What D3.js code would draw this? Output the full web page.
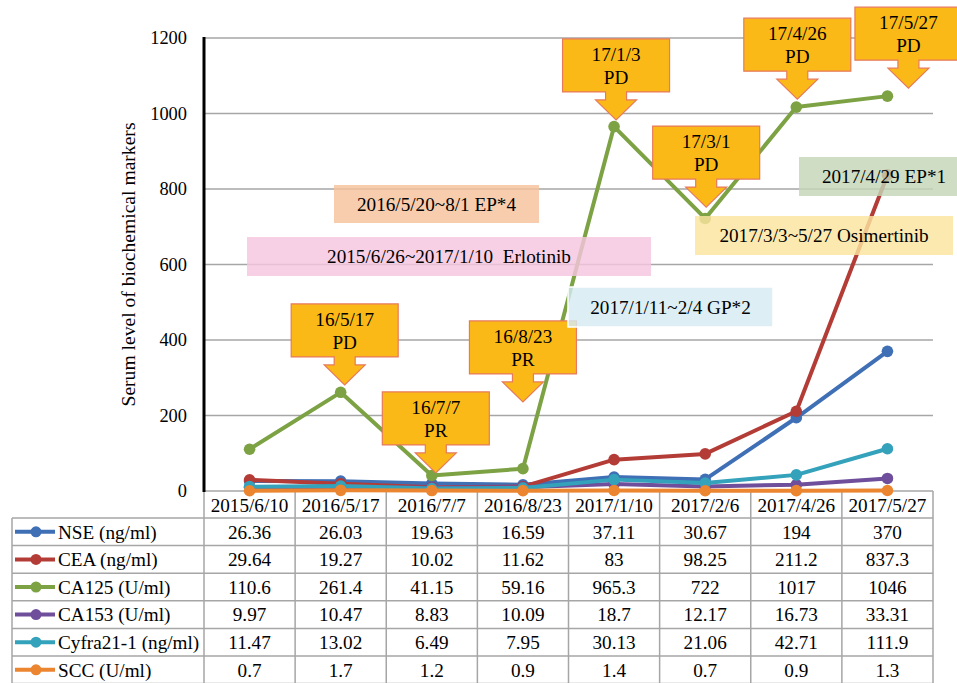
<!DOCTYPE html>
<html>
<head>
<meta charset="utf-8">
<script src="https://cdn.jsdelivr.net/npm/d3@7"></script>
<style>
  body { margin: 0; background: #fff; }
</style>
</head>
<body>
<script>
// sample dates (x categories)
var dates = ["2015/6/10", "2016/5/17", "2016/7/7", "2016/8/23", "2017/1/10", "2017/2/6", "2017/4/26", "2017/5/27"];

// marker series
var seriesNames = ["NSE (ng/ml)", "CEA (ng/ml)", "CA125 (U/ml)", "CA153 (U/ml)", "Cyfra21-1 (ng/ml)", "SCC (U/ml)"];
var seriesColors = ["#3f6fb5", "#b43c36", "#7ca244", "#6f4f9c", "#33a2ba", "#ec8530"];
var nse = [26.36, 26.03, 19.63, 16.59, 37.11, 30.67, 194, 370];
var cea = [29.64, 19.27, 10.02, 11.62, 83, 98.25, 211.2, 837.3];
var ca125 = [110.6, 261.4, 41.15, 59.16, 965.3, 722, 1017, 1046];
var ca153 = [9.97, 10.47, 8.83, 10.09, 18.7, 12.17, 16.73, 33.31];
var cyfra = [11.47, 13.02, 6.49, 7.95, 30.13, 21.06, 42.71, 111.9];
var scc = [0.7, 1.7, 1.2, 0.9, 1.4, 0.7, 0.9, 1.3];
var seriesValues = [nse, cea, ca125, ca153, cyfra, scc];
// printed table text (kept as shown)
var tableText = [
  ["26.36", "26.03", "19.63", "16.59", "37.11", "30.67", "194", "370"],
  ["29.64", "19.27", "10.02", "11.62", "83", "98.25", "211.2", "837.3"],
  ["110.6", "261.4", "41.15", "59.16", "965.3", "722", "1017", "1046"],
  ["9.97", "10.47", "8.83", "10.09", "18.7", "12.17", "16.73", "33.31"],
  ["11.47", "13.02", "6.49", "7.95", "30.13", "21.06", "42.71", "111.9"],
  ["0.7", "1.7", "1.2", "0.9", "1.4", "0.7", "0.9", "1.3"]
];

var yTicks = [0, 200, 400, 600, 800, 1000, 1200];

// response callouts
var calloutDates = ["16/5/17", "16/7/7", "16/8/23", "17/1/3", "17/3/1", "17/4/26", "17/5/27"];
var calloutStatus = ["PD", "PR", "PR", "PD", "PD", "PD", "PD"];
var calloutCat = [1, 2, 3, 4, 5, 6, 7];
var calloutTip = [281, 48, 236, 983, 752, 1038, 1067];

// treatment notes
var noteTexts = ["2016/5/20~8/1 EP*4", "2015/6/26~2017/1/10\u00a0\u00a0Erlotinib", "2017/1/11~2/4 GP*2", "2017/4/29 EP*1", "2017/3/3~5/27 Osimertinib"];
var noteColors = ["#f5c29c", "#f7c6df", "#d5ebf2", "#c3d6b6", "#fbe49f"];

function drawChart(){
  var W = 957, H = 683;
  var plotL = 204, plotR = 933, plotT = 38, zeroY = 491;
  var rowH = 27.6, legLeft = 12;
  var font = "'Liberation Serif', serif";
  var fs = 19.2, fsTick = 18.4;

  var svg = d3.select("body").append("svg")
      .attr("width", W)
      .attr("height", H)
      .style("font-family", font)
      .style("display", "block");

  var x = d3.scaleBand().domain(dates).range([plotL, plotR]).paddingInner(0).paddingOuter(0);
  var cx = function(i){ return x(dates[i]) + x.bandwidth() / 2; };
  var y = d3.scaleLinear().domain([0, 1200]).range([zeroY, plotT]);

  // gridlines
  svg.append("g").selectAll("line")
    .data(yTicks.filter(function(t){ return t > 0; }))
    .enter().append("line")
      .attr("x1", plotL).attr("x2", plotR)
      .attr("y1", function(d){ return y(d); })
      .attr("y2", function(d){ return y(d); })
      .attr("stroke", "#a6a6a6")
      .attr("stroke-width", 1.5);

  // y tick labels
  svg.append("g").selectAll("text")
    .data(yTicks)
    .enter().append("text")
      .attr("x", 187)
      .attr("y", function(d){ return y(d) + 6; })
      .attr("text-anchor", "end")
      .style("font-size", fsTick + "px")
      .text(function(d){ return d; });

  // y axis title
  svg.append("text")
    .attr("transform", "translate(135," + ((plotT + zeroY) / 2) + ") rotate(-90)")
    .attr("text-anchor", "middle")
    .style("font-size", "19.6px")
    .text("Serum level of biochemical markers");

  // table
  var tbl = svg.append("g");
  var gridC = "#a6a6a6";
  tbl.append("line").attr("x1", plotL).attr("x2", plotR).attr("y1", zeroY).attr("y2", zeroY)
    .attr("stroke", gridC).attr("stroke-width", 1.5);
  for (var r = 0; r <= 6; r++) {
    tbl.append("line").attr("x1", legLeft).attr("x2", plotR)
      .attr("y1", zeroY + 27 + r * rowH).attr("y2", zeroY + 27 + r * rowH)
      .attr("stroke", gridC).attr("stroke-width", 1.5);
  }
  tbl.append("line").attr("x1", legLeft).attr("x2", legLeft)
    .attr("y1", zeroY + 27).attr("y2", H + 2).attr("stroke", gridC).attr("stroke-width", 1.5);
  dates.forEach(function(d){
    tbl.append("line").attr("x1", x(d) + x.bandwidth()).attr("x2", x(d) + x.bandwidth())
      .attr("y1", zeroY).attr("y2", H + 2).attr("stroke", gridC).attr("stroke-width", 1.5);
  });
  tbl.append("line").attr("x1", plotL).attr("x2", plotL)
    .attr("y1", zeroY).attr("y2", H + 2).attr("stroke", gridC).attr("stroke-width", 1.5);

  tbl.selectAll("text.hdr")
    .data(dates)
    .enter().append("text")
      .attr("class", "hdr")
      .attr("x", function(d, i){ return cx(i); })
      .attr("y", zeroY + 20.5)
      .attr("text-anchor", "middle")
      .style("font-size", fs + "px")
      .text(function(d){ return d; });

  tableText.forEach(function(row, r){
    var ry = zeroY + 27 + r * rowH;
    tbl.selectAll(null)
      .data(row)
      .enter().append("text")
        .attr("x", function(d, i){ return cx(i); })
        .attr("y", ry + 20.5)
        .attr("text-anchor", "middle")
        .style("font-size", fs + "px")
        .text(function(d){ return d; });
    // legend key
    var ly = ry + rowH / 2;
    tbl.append("line").attr("x1", 15).attr("x2", 55).attr("y1", ly).attr("y2", ly)
      .attr("stroke", seriesColors[r]).attr("stroke-width", 4);
    tbl.append("circle").attr("cx", 36).attr("cy", ly).attr("r", 5.5).attr("fill", seriesColors[r]);
    tbl.append("text").attr("x", 58).attr("y", ry + 20.5)
      .style("font-size", fs + "px").text(seriesNames[r]);
  });

  // axis line
  svg.append("line").attr("x1", plotL).attr("x2", plotL).attr("y1", plotT - 1).attr("y2", zeroY + 1)
    .attr("stroke", "#000").attr("stroke-width", 3);

  // series lines
  var line = d3.line()
    .x(function(d, i){ return cx(i); })
    .y(function(d){ return y(d); });

  seriesValues.forEach(function(vals, s){
    var g = svg.append("g");
    g.append("path")
      .datum(vals)
      .attr("d", line)
      .attr("fill", "none")
      .attr("stroke", seriesColors[s])
      .attr("stroke-width", 4)
      .attr("stroke-linejoin", "round");
    g.selectAll("circle")
      .data(vals)
      .enter().append("circle")
        .attr("cx", function(d, i){ return cx(i); })
        .attr("cy", function(d){ return y(d); })
        .attr("r", 5.8)
        .attr("fill", seriesColors[s]);
  });

  // callouts
  var calloutDx = [4, 4, 0, 2, 1, 1, 21];
  calloutDates.forEach(function(lbl, k){
    var tx = cx(calloutCat[k]) + calloutDx[k];
    var ty = y(calloutTip[k]);
    var bw = 107, bh = 53;
    var bx = tx - bw / 2, bb = ty - 28, bt = bb - bh;
    var p = d3.path();
    p.moveTo(bx, bt);
    p.lineTo(bx + bw, bt);
    p.lineTo(bx + bw, bb);
    p.lineTo(tx + 10.5, bb);
    p.lineTo(tx + 10.5, ty - 20);
    p.lineTo(tx + 20.5, ty - 20);
    p.lineTo(tx, ty);
    p.lineTo(tx - 20.5, ty - 20);
    p.lineTo(tx - 10.5, ty - 20);
    p.lineTo(tx - 10.5, bb);
    p.lineTo(bx, bb);
    p.closePath();
    svg.append("path")
      .attr("d", p.toString())
      .attr("fill", "#fbb917")
      .attr("stroke", "#e77a5c")
      .attr("stroke-width", 1.2);
    svg.append("text").attr("x", tx).attr("y", bt + 22)
      .attr("text-anchor", "middle").style("font-size", fs + "px").text(lbl);
    svg.append("text").attr("x", tx).attr("y", bt + 45)
      .attr("text-anchor", "middle").style("font-size", fs + "px").text(calloutStatus[k]);
  });

  // treatment note boxes
  var noteBoxes = [
    [334, 185, 205, 38],
    [247, 237, 404, 39],
    [568, 287, 205, 40],
    [799, 157, 170, 39],
    [695, 216, 258, 39]
  ];
  noteTexts.forEach(function(t, k){
    var b = noteBoxes[k];
    svg.append("rect")
      .attr("x", b[0]).attr("y", b[1]).attr("width", b[2]).attr("height", b[3])
      .attr("fill", noteColors[k])
      .attr("fill-opacity", 0.82)
      .attr("stroke", k == 2 ? "#fff" : "none")
      .attr("stroke-width", 1.5);
    svg.append("text")
      .attr("x", b[0] + b[2] / 2)
      .attr("y", b[1] + b[3] / 2 + 6.5)
      .attr("text-anchor", "middle")
      .style("font-size", fs + "px")
      .text(t);
  });
}

drawChart();
</script>
</body>
</html>
